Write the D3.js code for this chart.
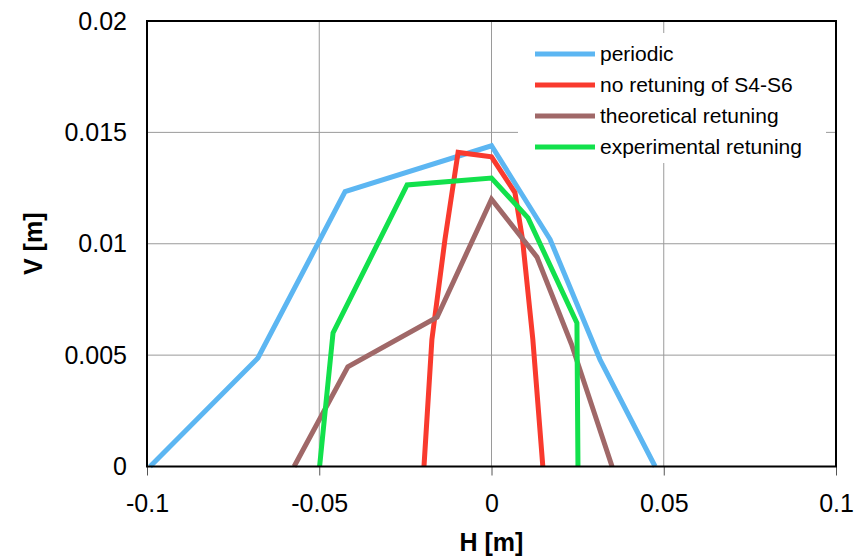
<!DOCTYPE html>
<html><head><meta charset="utf-8">
<script src="https://cdn.jsdelivr.net/npm/d3@7"></script>
<style>body{margin:0;background:#fff}svg{display:block}text{font-family:"Liberation Sans",Arial,sans-serif}</style>
</head><body><svg id="c" width="860" height="559"></svg>
<script>
const xTicks = [-0.1, -0.05, 0, 0.05, 0.1];
const yTicks = [0, 0.005, 0.01, 0.015, 0.02];
const seriesNames = ["periodic", "no retuning of S4-S6", "theoretical retuning", "experimental retuning"];
const seriesColors = ["#5cb6f2", "#f93a2e", "#a06868", "#12e14c"];
const periodicH = [-0.0991, -0.0678, -0.0425, 0, 0.017, 0.0315, 0.0475];
const periodicV = [0, 0.00487, 0.01234, 0.0144, 0.0102, 0.0048, 0];
const noRetuneH = [-0.0196, -0.0173, -0.0135, -0.0097, 0, 0.0068, 0.009, 0.012, 0.0149];
const noRetuneV = [0, 0.0057, 0.0102, 0.0141, 0.0139, 0.0123, 0.0102, 0.0057, 0];
const theoH = [-0.0573, -0.0417, -0.0158, 0, 0.0132, 0.0232, 0.035];
const theoV = [0, 0.00447, 0.0067, 0.012, 0.0094, 0.0055, 0];
const expH = [-0.0499, -0.046, -0.0245, 0, 0.0106, 0.0248, 0.0251];
const expV = [0, 0.006, 0.01264, 0.01295, 0.01116, 0.00644, 0];

const svg = d3.select("#c");
const L = 147, R = 836, T = 21, B = 466.5;
const x = d3.scaleLinear().domain([-0.1, 0.1]).range([L, R]);
const y = d3.scaleLinear().domain([0, 0.02]).range([B, T]);
const fmt = d => d === 0 ? "0" : String(+d.toFixed(4));

// grid
const g = svg.append("g");
g.selectAll(".vg").data(xTicks.slice(1, -1)).enter().append("line")
  .attr("x1", d => x(d)).attr("x2", d => x(d)).attr("y1", T).attr("y2", B)
  .attr("stroke", "#9a9a9a").attr("stroke-width", 1);
g.selectAll(".hg").data(yTicks.slice(1, -1)).enter().append("line")
  .attr("x1", L).attr("x2", R).attr("y1", d => y(d)).attr("y2", d => y(d))
  .attr("stroke", "#9a9a9a").attr("stroke-width", 1);

// legend background
svg.append("rect").attr("x", 518).attr("y", 33).attr("width", 308).attr("height", 130).attr("fill", "#fff");

// axes
const xAxis = d3.axisBottom(x).tickValues(xTicks).tickFormat(fmt).tickSize(9).tickPadding(19);
const xa = svg.append("g").attr("transform", `translate(0,${B})`).call(xAxis);
xa.select(".domain").remove();
xa.selectAll(".tick line").attr("stroke", "#555").attr("stroke-width", 1);
xa.selectAll("text").attr("font-size", 25).attr("fill", "#000").attr("font-family", '"Liberation Sans",Arial,sans-serif');

const yAxis = d3.axisLeft(y).tickValues(yTicks).tickFormat(fmt).tickSize(0).tickPadding(20);
const ya = svg.append("g").attr("transform", `translate(${L},0)`).call(yAxis);
ya.select(".domain").remove();
ya.selectAll("text").attr("font-size", 25).attr("fill", "#000").attr("font-family", '"Liberation Sans",Arial,sans-serif');

// series
const series = [[periodicH, periodicV], [noRetuneH, noRetuneV], [theoH, theoV], [expH, expV]];
const line = d3.line().x(d => x(d[0])).y(d => y(d[1]));
series.forEach((s, i) => {
  const pts = s[0].map((h, k) => [h, s[1][k]]);
  svg.append("path").attr("d", line(pts)).attr("fill", "none")
    .attr("stroke", seriesColors[i]).attr("stroke-width", 5).attr("stroke-linejoin", "miter").attr("stroke-miterlimit", 3);
});

// frame
svg.append("rect").attr("x", L).attr("y", T).attr("width", R - L).attr("height", B - T)
  .attr("fill", "none").attr("stroke", "#000").attr("stroke-width", 2);

// legend
const lg = svg.append("g");
seriesNames.forEach((n, i) => {
  const yy = 54 + i * 31;
  lg.append("line").attr("x1", 535).attr("x2", 595).attr("y1", yy).attr("y2", yy)
    .attr("stroke", seriesColors[i]).attr("stroke-width", 5);
  lg.append("text").attr("x", 600).attr("y", yy).attr("dy", "0.33em").attr("font-size", 21).text(n);
});

// axis titles
svg.append("text").attr("x", x(0)).attr("y", 551).attr("text-anchor", "middle")
  .attr("font-size", 25).attr("font-weight", "bold").text("H [m]");
svg.append("text").attr("transform", `translate(42,${(T + B) / 2}) rotate(-90)`).attr("text-anchor", "middle")
  .attr("font-size", 25).attr("font-weight", "bold").text("V [m]");
</script></body></html>
